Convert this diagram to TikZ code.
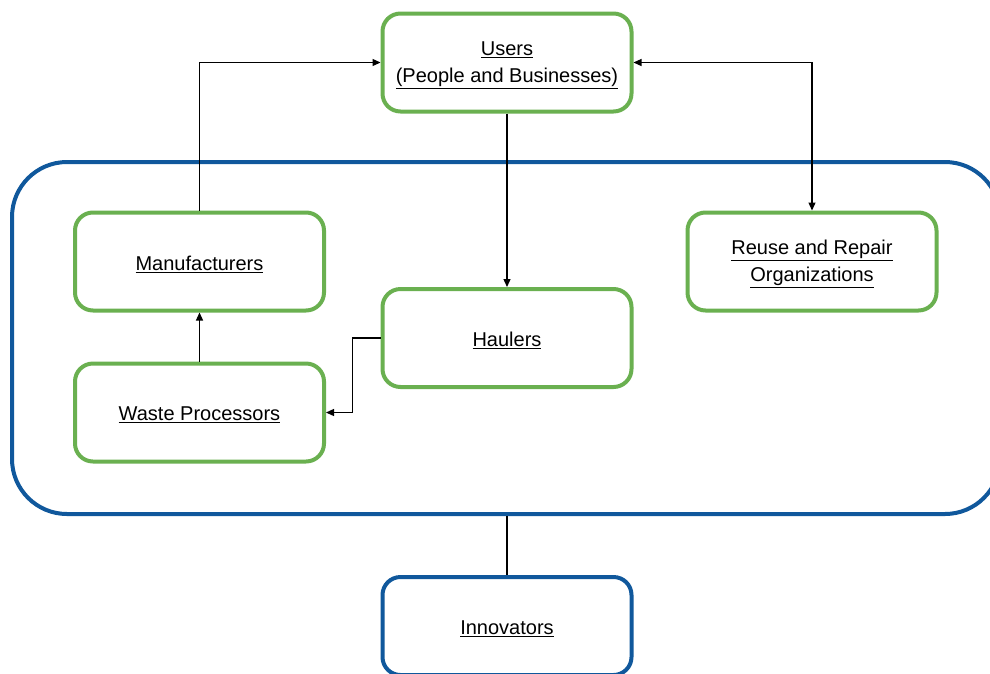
\documentclass[tikz,border=0pt]{standalone}
\usepackage{fontspec}
\setmainfont{Liberation Sans}
\usetikzlibrary{arrows.meta}
\definecolor{boxgreen}{RGB}{106,176,80}
\definecolor{boxblue}{RGB}{16,88,156}
\newcommand\ulx[1]{\raisebox{-2.5pt}[\height][\depth]{\underline{#1}}}
\tikzset{
  greenbox/.style={draw=boxgreen, line width=4pt, rounded corners=18pt, minimum width=249pt, minimum height=98pt, align=center, font=\fontsize{20}{27}\selectfont, inner sep=0pt},
  bluebox/.style={draw=boxblue, line width=4pt, rounded corners=18pt, minimum width=249pt, minimum height=98pt, align=center, font=\fontsize{20}{27}\selectfont, inner sep=0pt},
  conn/.style={line width=1.3pt, black},
  arr/.style={conn, -{Triangle[length=8pt,width=7pt]}},
  darr/.style={conn, {Triangle[length=8pt,width=7pt]}-{Triangle[length=8pt,width=7pt]}}
}
\begin{document}
\begin{tikzpicture}[x=1pt,y=-1pt]
\useasboundingbox (0,0) rectangle (990,673);
\clip (0,0) rectangle (990,673);
\fill[white] (0,0) rectangle (990,673);
% big container
\node[draw=boxblue, line width=4pt, rounded corners=55pt, minimum width=988pt, minimum height=352pt, inner sep=0pt] (group) at (506,338) {};
\node[greenbox] (users) at (507,62.5) {\ulx{Users}\\\ulx{(People and Businesses)}};
\node[greenbox] (manu) at (199.5,261.5) {\ulx{Manufacturers}};
\node[greenbox] (waste) at (199.5,412.5) {\ulx{Waste Processors}};
\node[greenbox] (haul) at (507,338) {\ulx{Haulers}};
\node[greenbox] (reuse) at (812,261.5) {\ulx{Reuse and Repair}\\\ulx{Organizations}};
\node[bluebox] (innov) at (507,626) {\ulx{Innovators}};
% connectors
\draw[arr] (manu.north) |- (users.west);
\draw[darr] (users.east) -| (reuse.north);
\draw[arr] (users.south) -- (haul.north);
\draw[arr] (haul.west) -- ++(-28,0) |- (waste.east);
\draw[arr] (waste.north) -- (manu.south);
\draw[conn] (group.south -| innov.north) -- (innov.north);
\end{tikzpicture}
\end{document}
